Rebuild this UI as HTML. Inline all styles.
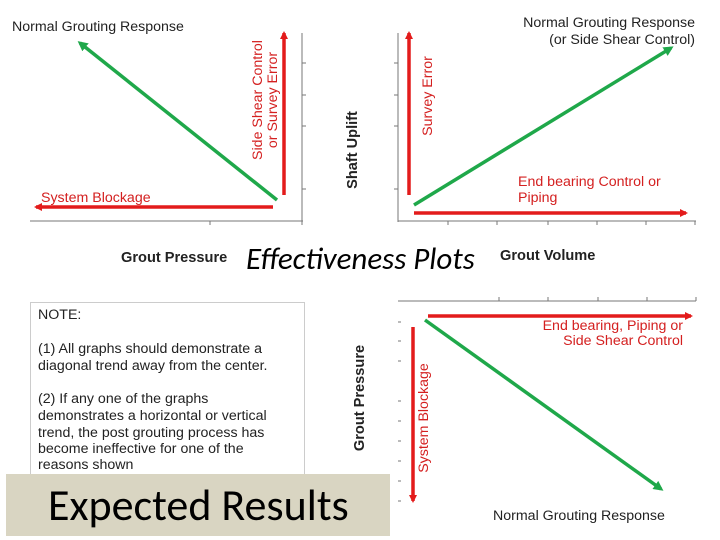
<!DOCTYPE html>
<html><head><meta charset="utf-8"><style>
html,body{margin:0;padding:0;background:#fff;}
svg{display:block;font-family:"Liberation Sans",sans-serif;}
</style></head><body>
<svg width="720" height="540" viewBox="0 0 720 540" xmlns="http://www.w3.org/2000/svg">
<defs>
<marker id="r" markerWidth="8" markerHeight="8" refX="6" refY="4" orient="auto" markerUnits="userSpaceOnUse"><path d="M0,0 L8,4 L0,8 z" fill="#e31b1b"/></marker>
<marker id="g" markerWidth="10" markerHeight="10" refX="7" refY="5" orient="auto" markerUnits="userSpaceOnUse"><path d="M0,0 L10,5 L0,10 z" fill="#1fa84a"/></marker>
</defs>
<g stroke="#777" stroke-width="1" fill="none">
<path d="M30,221 H303 M302,33 V225 M302,63 h4 M302,95 h4 M302,126 h4 M302,189 h4 M210,221 v4"/>
<path d="M398,221 H696 M398,33 V222 M394,63 h4 M394,95 h4 M394,126 h4 M394,189 h4 M448,221 v4 M497,221 v4 M548,221 v4 M597,221 v4 M646,221 v4 M695,221 v4"/>
<path d="M398,301 H696 M499,301 v-4 M548,301 v-4 M598,301 v-4 M647,301 v-4 M696,301 v-4 M398,322 h3 M398,341 h3 M398,361 h3 M398,401 h3 M398,421 h3 M398,441 h3 M398,461 h3 M398,481 h3 M398,501 h3"/>
</g>
<g stroke-width="3.5" fill="none">
<line x1="277" y1="200" x2="80" y2="43" stroke="#1fa84a" marker-end="url(#g)"/>
<line x1="273" y1="207" x2="36" y2="207" stroke="#e31b1b" marker-end="url(#r)"/>
<line x1="284" y1="195" x2="284" y2="33" stroke="#e31b1b" marker-end="url(#r)"/>
<line x1="409" y1="195" x2="409" y2="33" stroke="#e31b1b" marker-end="url(#r)"/>
<line x1="414" y1="205" x2="671" y2="48" stroke="#1fa84a" marker-end="url(#g)"/>
<line x1="414" y1="213" x2="686" y2="213" stroke="#e31b1b" marker-end="url(#r)"/>
<line x1="428" y1="316" x2="691" y2="316" stroke="#e31b1b" marker-end="url(#r)"/>
<line x1="413" y1="327" x2="413" y2="501" stroke="#e31b1b" marker-end="url(#r)"/>
<line x1="425" y1="320" x2="661" y2="489" stroke="#1fa84a" marker-end="url(#g)"/>
</g>
<g font-size="14.2" fill="#222">
<text x="12" y="31">Normal Grouting Response</text>
<text x="695" y="27" text-anchor="end">Normal Grouting Response</text>
<text x="695" y="44" text-anchor="end">(or Side Shear Control)</text>
<text x="493" y="520">Normal Grouting Response</text>
</g>
<g font-size="14.2" fill="#d42020">
<text x="41" y="202">System Blockage</text>
<text x="518" y="186">End bearing Control or</text>
<text x="518" y="202">Piping</text>
<text x="683" y="330" text-anchor="end">End bearing, Piping or</text>
<text x="683" y="345" text-anchor="end">Side Shear Control</text>
<text transform="translate(262,100) rotate(-90)" text-anchor="middle">Side Shear Control</text>
<text transform="translate(277,100) rotate(-90)" text-anchor="middle">or Survey Error</text>
<text transform="translate(432,96) rotate(-90)" text-anchor="middle">Survey Error</text>
<text transform="translate(428,418) rotate(-90)" text-anchor="middle">System Blockage</text>
</g>
<g font-size="14.6" font-weight="bold" fill="#222">
<text x="121" y="262">Grout Pressure</text>
<text x="500" y="260">Grout Volume</text>
<text transform="translate(357,150) rotate(-90)" text-anchor="middle">Shaft Uplift</text>
<text transform="translate(364,398) rotate(-90)" text-anchor="middle">Grout Pressure</text>
</g>
<text x="246" y="269" font-size="31" font-style="italic" fill="#000" font-family="Carlito,'Liberation Sans',sans-serif">Effectiveness Plots</text>
<rect x="30.5" y="302.5" width="274" height="176" fill="#fff" stroke="#ccc"/>
<g font-size="14.2" fill="#222">
<text x="38" y="319">NOTE:</text>
<text x="38" y="353">(1) All graphs should demonstrate a</text>
<text x="38" y="370">diagonal trend away from the center.</text>
<text x="38" y="403">(2) If any one of the graphs</text>
<text x="38" y="420">demonstrates a horizontal or vertical</text>
<text x="38" y="437">trend, the post grouting process has</text>
<text x="38" y="453">become ineffective for one of the</text>
<text x="38" y="469">reasons shown</text>
</g>
<rect x="6" y="474" width="384" height="62" fill="#d9d5c2"/>
<text x="48" y="520" font-size="44" fill="#000" font-family="Carlito,'Liberation Sans',sans-serif">Expected Results</text>
</svg>
</body></html>
